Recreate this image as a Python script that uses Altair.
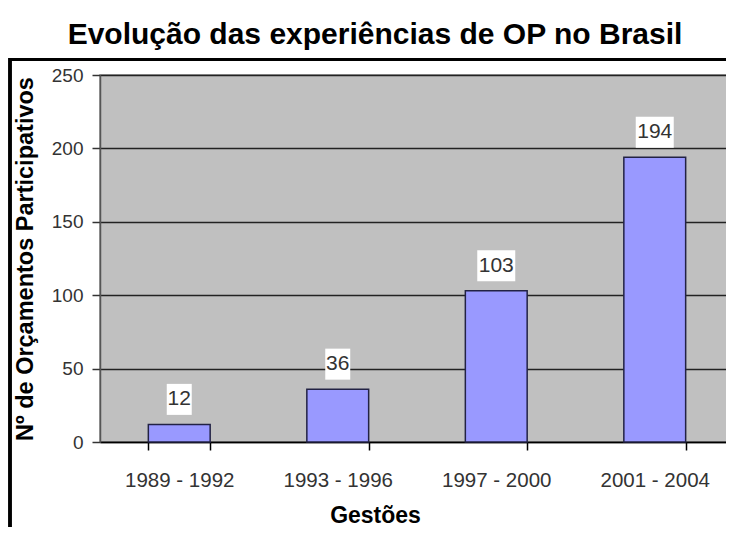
import altair as alt
import pandas as pd

gestoes = ["1989 - 1992", "1993 - 1996", "1997 - 2000", "2001 - 2004"]
num_op = [12, 36, 103, 194]
y_ticks = [0, 50, 100, 150, 200, 250]

df = pd.DataFrame({"gestao": gestoes, "n": num_op})
df["label"] = df["n"].astype(str)
df["digits"] = df["label"].str.len()

FONT = "Liberation Sans"
path2 = "M-0.625,-0.775H0.625V0.775H-0.625Z"
path3 = "M-0.95,-0.775H0.95V0.775H-0.95Z"

x = alt.X(
    "gestao:N", sort=gestoes, title="Gestões",
    scale=alt.Scale(paddingInner=0.61, paddingOuter=0.305),
    axis=alt.Axis(
        labelAngle=0, tickBand="extent", grid=False,
        domainColor="#000000", domainWidth=1.5,
        tickColor="#000000", tickWidth=1.5, tickSize=8,
        labelFont=FONT, labelFontSize=20.5, labelColor="#333333", labelPadding=20,
        titleFont=FONT, titleFontSize=23, titleFontWeight="bold", titleColor="#000000",
        titlePadding=14, titleX=275, titleAlign="center",
    ),
)
y = alt.Y(
    "n:Q", title="Nº de Orçamentos Participativos",
    scale=alt.Scale(domain=[0, 250], nice=False),
    axis=alt.Axis(
        values=y_ticks, grid=True, gridColor="#222222", gridWidth=1.3,
        domainColor="#555555", domainWidth=1.5,
        tickColor="#333333", tickWidth=1.5, tickSize=8,
        labelFont=FONT, labelFontSize=19, labelColor="#333333", labelPadding=9,
        titleFont=FONT, titleFontSize=23.5, titleFontWeight="bold", titleColor="#000000",
        titlePadding=14,
    ),
)

bars = alt.Chart(df).mark_bar(
    color="#9999FF", stroke="#222244", strokeWidth=1.5
).encode(x=x, y=y)

boxes = alt.Chart(df).mark_point(
    filled=True, color="white", opacity=1, size=1600, yOffset=-25
).encode(
    x=x, y=y,
    shape=alt.Shape("digits:O", scale=alt.Scale(domain=[2, 3], range=[path2, path3]), legend=None),
)

labels = alt.Chart(df).mark_text(
    font=FONT, fontSize=21, color="#333333", dy=-25, baseline="middle"
).encode(x=x, y=y, text="label:N")

frame_top = alt.Chart(df).mark_rule(color="black", strokeWidth=3).encode(
    x=alt.value(-90), x2=alt.value(640), y=alt.value(-15.5)
)
frame_left = alt.Chart(df).mark_rule(color="black", strokeWidth=3).encode(
    x=alt.value(-90), y=alt.value(-17), y2=alt.value(460)
)

chart = alt.layer(bars, boxes, labels, frame_top, frame_left).properties(
    width=634, height=367,
    autosize=alt.AutoSizeParams(type="none"),
    padding={"left": 92, "top": 67, "right": -8, "bottom": 85},
    title=alt.Title(
        "Evolução das experiências de OP no Brasil",
        font=FONT, fontSize=30, fontWeight="bold", color="#000000",
        anchor="middle", dx=-42, offset=7,
    ),
).configure_view(fill="#C0C0C0", stroke="#808080", strokeWidth=1.5)

chart.save("out.html", embed_options={"renderer": "svg", "actions": False})
